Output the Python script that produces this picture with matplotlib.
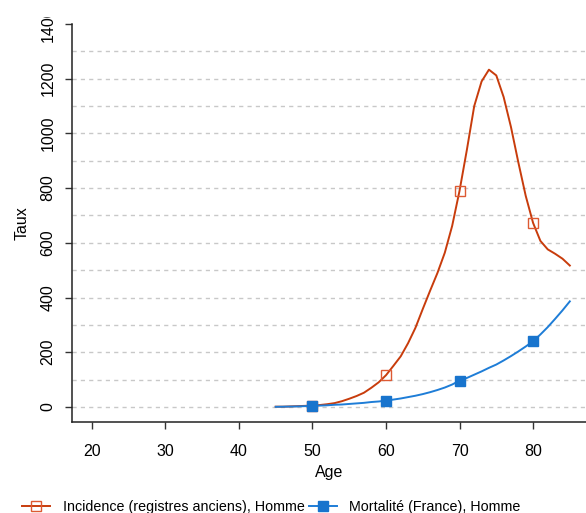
import matplotlib
matplotlib.use("Agg")
import matplotlib.pyplot as plt
from matplotlib.transforms import Bbox, TransformedBbox

plt.rcParams['font.family'] = ['Liberation Sans', 'DejaVu Sans']

# data
ages = list(range(45, 86))
incidence = [1, 1, 2, 3, 4, 5, 7, 10, 14, 21,
             30, 40, 52, 70, 90, 116, 150, 185, 233, 289,
             358, 425, 490, 564, 662, 790, 940, 1100, 1190, 1233,
             1212, 1133, 1023, 894, 772, 673, 607, 576, 560, 542,
             517]
mortalite = [0.5, 1, 1.5, 2, 3, 4, 5, 6, 8, 9,
             11, 13, 15, 18, 20, 23, 27, 31, 36, 41,
             47, 54, 62, 71, 82, 96, 106, 118, 130, 143,
             155, 170, 186, 203, 221, 240, 265, 292, 322, 353,
             386]
marker_ages = [50, 60, 70, 80]
xticks = [20, 30, 40, 50, 60, 70, 80]
yticks = [0, 200, 400, 600, 800, 1000, 1200, 1400]
labels = ["Incidence (registres anciens), Homme", "Mortalité (France), Homme"]

red = "#C83C0C"
red_mk = "#DD5A33"
blue = "#1E7DD7"
blue_mk = "#1874CD"

fig = plt.figure(figsize=(5.86, 5.13), dpi=100)
ax = fig.add_axes([72/586, 1 - 422/513, 1 - 72/586, (422 - 24)/513])

mk = [i for i, a in enumerate(ages) if a in marker_ages]
ax.plot(ages, incidence, color=red, lw=1.4, marker='s', markevery=mk,
        markersize=6.5, markerfacecolor='none', markeredgecolor=red_mk,
        markeredgewidth=1.0, label=labels[0], zorder=3)
ax.plot(ages, mortalite, color=blue, lw=1.4, marker='s', markevery=mk,
        markersize=6.5, markerfacecolor=blue_mk, markeredgecolor=blue_mk,
        label=labels[1], zorder=3)

for v in range(0, 1400, 100):
    ax.axhline(v, color='#C8C8C8', lw=1.0, ls=(0, (3, 3)), zorder=1)

ax.set_xlim(17.3, 87.2)
ax.set_ylim(-55, 1400)
ax.set_xticks(xticks)
ax.set_yticks(yticks)
ax.set_yticklabels([str(v) for v in yticks], rotation=90, va='center')
ax.tick_params(labelsize=11.5, length=5, width=1, color='#333333', pad=7)
ax.tick_params(axis='x', pad=11)

for s in ['top', 'right']:
    ax.spines[s].set_visible(False)
for s in ['left', 'bottom']:
    ax.spines[s].set_linewidth(1.1)
    ax.spines[s].set_color('#222222')

ax.set_xlabel("Age", fontsize=11.5, labelpad=4)
ax.set_ylabel("Taux", fontsize=11.5, labelpad=8)

# top label is cut in the reference
fig.canvas.draw()
top = ax.get_yticklabels()[-1]
top.set_clip_box(TransformedBbox(Bbox([[0, 0], [1, 1 - 17/513]]), fig.transFigure))
top.set_clip_on(True)

fig.legend(loc='center left', bbox_to_anchor=(22/586, 1 - 507/513), ncol=2,
           frameon=False, fontsize=10.3, handlelength=1.95, handletextpad=0.9,
           columnspacing=0.28, borderpad=0, borderaxespad=0)

fig.savefig("out.png", dpi=100)
